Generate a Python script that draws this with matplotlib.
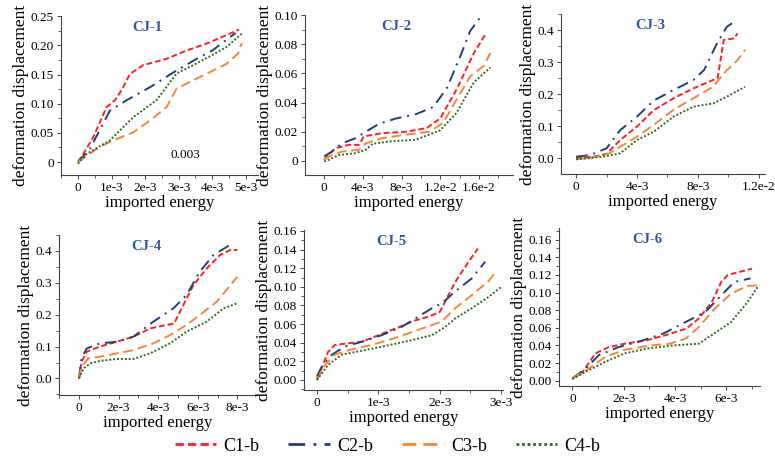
import matplotlib.pyplot as plt
from matplotlib.ticker import AutoMinorLocator
from matplotlib.lines import Line2D

plt.rcParams['font.family'] = ['Liberation Serif', 'DejaVu Serif']

# Dados (x = energia importada, y = deslocamento)
cj1_c1_x = [0, 0.16e-3, 0.46e-3, 0.85e-3, 1.1e-3, 1.3e-3, 1.55e-3, 1.94e-3, 2.64e-3, 3.23e-3, 3.83e-3, 4.72e-3, 4.8e-3]
cj1_c1_y = [0, 0.014, 0.043, 0.094, 0.106, 0.123, 0.151, 0.166, 0.177, 0.191, 0.203, 0.225, 0.227]
cj1_c2_x = [0, 0.36e-3, 0.95e-3, 1.45e-3, 2.14e-3, 2.94e-3, 3.63e-3, 4.0e-3, 4.62e-3, 4.7e-3]
cj1_c2_y = [0, 0.023, 0.088, 0.106, 0.128, 0.157, 0.180, 0.191, 0.218, 0.221]
cj1_c3_x = [0, 0.65e-3, 1.05e-3, 1.65e-3, 2.14e-3, 2.64e-3, 2.94e-3, 3.43e-3, 3.93e-3, 4.42e-3, 4.77e-3, 4.88e-3]
cj1_c3_y = [0, 0.026, 0.037, 0.051, 0.071, 0.094, 0.126, 0.140, 0.154, 0.168, 0.186, 0.204]
cj1_c4_x = [0, 0.26e-3, 0.95e-3, 1.65e-3, 2.34e-3, 2.94e-3, 3.43e-3, 3.83e-3, 4.42e-3, 4.88e-3]
cj1_c4_y = [-0.003, 0.014, 0.037, 0.077, 0.106, 0.152, 0.166, 0.178, 0.197, 0.220]

cj2_c1_x = [0, 0.45e-3, 1.15e-3, 2.55e-3, 3.6e-3, 4.1e-3, 6.0e-3, 8.5e-3, 10.6e-3, 12.0e-3, 13.7e-3, 15.5e-3, 16.7e-3]
cj2_c1_y = [0.0007, 0.004, 0.0087, 0.011, 0.011, 0.0168, 0.019, 0.020, 0.0225, 0.029, 0.049, 0.074, 0.087]
cj2_c2_x = [0, 0.8e-3, 1.85e-3, 3.25e-3, 4.3e-3, 5.7e-3, 7.4e-3, 9.5e-3, 11.3e-3, 12.7e-3, 14.1e-3, 15.1e-3, 16.1e-3]
cj2_c2_y = [0.003, 0.0064, 0.012, 0.0156, 0.020, 0.0255, 0.029, 0.032, 0.037, 0.050, 0.072, 0.089, 0.098]
cj2_c3_x = [0, 0.45e-3, 1.85e-3, 3.6e-3, 4.3e-3, 6.0e-3, 8.5e-3, 10.9e-3, 12.3e-3, 13.7e-3, 15.1e-3, 16.5e-3, 17.2e-3]
cj2_c3_y = [0.0007, 0.003, 0.0064, 0.0076, 0.012, 0.0156, 0.018, 0.020, 0.026, 0.042, 0.058, 0.065, 0.074]
cj2_c4_x = [0, 0.45e-3, 1.5e-3, 3.25e-3, 4.3e-3, 5.0e-3, 6.75e-3, 9.5e-3, 12.0e-3, 13.7e-3, 15.5e-3, 17.2e-3]
cj2_c4_y = [-0.0005, 0.0007, 0.004, 0.0053, 0.0076, 0.0117, 0.0133, 0.0145, 0.021, 0.033, 0.054, 0.064]

cj3_c1_x = [0, 1.14e-3, 2.0e-3, 2.9e-3, 4.0e-3, 5.1e-3, 6.4e-3, 7.7e-3, 9.0e-3, 9.3e-3, 9.7e-3, 10.4e-3, 10.6e-3]
cj3_c1_y = [0, 0.005, 0.0135, 0.057, 0.099, 0.150, 0.187, 0.218, 0.244, 0.250, 0.369, 0.374, 0.390]
cj3_c2_x = [0, 0.92e-3, 2.0e-3, 2.9e-3, 4.0e-3, 5.1e-3, 6.4e-3, 7.7e-3, 8.4e-3, 9.25e-3, 9.9e-3, 10.4e-3]
cj3_c2_y = [0.005, 0.010, 0.031, 0.088, 0.130, 0.180, 0.213, 0.244, 0.275, 0.358, 0.410, 0.426]
cj3_c3_x = [0, 1.14e-3, 2.2e-3, 2.9e-3, 4.0e-3, 5.1e-3, 6.4e-3, 7.7e-3, 9.0e-3, 9.7e-3, 10.6e-3, 11.1e-3]
cj3_c3_y = [-0.003, 0.003, 0.0156, 0.036, 0.0675, 0.104, 0.151, 0.187, 0.223, 0.265, 0.306, 0.338]
cj3_c4_x = [0, 1.8e-3, 2.9e-3, 4.0e-3, 5.1e-3, 6.4e-3, 7.7e-3, 9.0e-3, 9.9e-3, 11.1e-3]
cj3_c4_y = [-0.003, 0.005, 0.0156, 0.057, 0.083, 0.130, 0.161, 0.171, 0.192, 0.223]

cj4_c1_x = [0, 0.13e-3, 0.39e-3, 1.06e-3, 1.9e-3, 2.75e-3, 3.6e-3, 4.43e-3, 4.8e-3, 5.78e-3, 6.45e-3, 7.12e-3, 7.63e-3, 8.0e-3]
cj4_c1_y = [0, 0.052, 0.084, 0.100, 0.115, 0.131, 0.157, 0.168, 0.172, 0.293, 0.345, 0.387, 0.403, 0.403]
cj4_c2_x = [0, 0.13e-3, 0.39e-3, 1.06e-3, 1.9e-3, 2.75e-3, 3.75e-3, 4.77e-3, 5.44e-3, 6.1e-3, 6.79e-3, 7.63e-3, 7.75e-3]
cj4_c2_y = [0, 0.063, 0.094, 0.110, 0.115, 0.131, 0.178, 0.220, 0.262, 0.335, 0.387, 0.419, 0.424]
cj4_c3_x = [0, 0.13e-3, 0.47e-3, 1.06e-3, 2.75e-3, 3.75e-3, 4.6e-3, 5.44e-3, 6.1e-3, 6.96e-3, 8.0e-3]
cj4_c3_y = [0, 0.037, 0.063, 0.068, 0.089, 0.110, 0.136, 0.168, 0.199, 0.241, 0.319]
cj4_c4_x = [0, 0.22e-3, 0.56e-3, 1.06e-3, 1.9e-3, 2.75e-3, 3.6e-3, 4.6e-3, 5.44e-3, 6.45e-3, 7.3e-3, 8.0e-3]
cj4_c4_y = [0, 0.031, 0.047, 0.055, 0.061, 0.061, 0.079, 0.110, 0.147, 0.178, 0.220, 0.236]

cj5_c1_x = [0, 0.076e-3, 0.18e-3, 0.29e-3, 0.46e-3, 0.73e-3, 1.0e-3, 1.27e-3, 1.6e-3, 1.82e-3, 2.0e-3, 2.25e-3, 2.47e-3, 2.62e-3]
cj5_c1_y = [0.001, 0.0125, 0.030, 0.0376, 0.039, 0.041, 0.048, 0.055, 0.064, 0.068, 0.073, 0.105, 0.127, 0.141]
cj5_c2_x = [0, 0.076e-3, 0.24e-3, 0.46e-3, 0.73e-3, 1.05e-3, 1.38e-3, 1.7e-3, 1.92e-3, 2.03e-3, 2.25e-3, 2.52e-3, 2.74e-3]
cj5_c2_y = [0.0036, 0.014, 0.027, 0.036, 0.041, 0.048, 0.057, 0.070, 0.079, 0.082, 0.095, 0.109, 0.127]
cj5_c3_x = [0, 0.13e-3, 0.29e-3, 0.51e-3, 0.89e-3, 1.27e-3, 1.7e-3, 2.03e-3, 2.25e-3, 2.52e-3, 2.79e-3, 2.91e-3]
cj5_c3_y = [0, 0.016, 0.027, 0.032, 0.0376, 0.045, 0.055, 0.0626, 0.077, 0.091, 0.106, 0.116]
cj5_c4_x = [0, 0.18e-3, 0.4e-3, 0.62e-3, 1.0e-3, 1.43e-3, 1.87e-3, 2.09e-3, 2.25e-3, 2.52e-3, 2.79e-3, 3.0e-3]
cj5_c4_y = [0, 0.016, 0.027, 0.030, 0.035, 0.041, 0.048, 0.057, 0.066, 0.077, 0.089, 0.100]

cj6_c1_x = [0, 0.4e-3, 0.9e-3, 1.41e-3, 2.04e-3, 2.92e-3, 3.67e-3, 4.43e-3, 4.93e-3, 5.43e-3, 5.8e-3, 6.06e-3, 7.0e-3]
cj6_c1_y = [0.0026, 0.010, 0.031, 0.038, 0.042, 0.046, 0.052, 0.059, 0.0706, 0.089, 0.112, 0.120, 0.127]
cj6_c2_x = [0, 0.53e-3, 1.03e-3, 1.79e-3, 2.67e-3, 3.55e-3, 4.43e-3, 5.18e-3, 5.81e-3, 6.31e-3, 6.94e-3]
cj6_c2_y = [0.0026, 0.014, 0.029, 0.038, 0.045, 0.0536, 0.0668, 0.078, 0.097, 0.112, 0.116]
cj6_c3_x = [0, 0.65e-3, 1.28e-3, 2.04e-3, 3.04e-3, 3.8e-3, 4.43e-3, 4.93e-3, 5.56e-3, 6.19e-3, 6.82e-3, 7.2e-3]
cj6_c3_y = [0.0026, 0.014, 0.027, 0.035, 0.040, 0.042, 0.048, 0.061, 0.082, 0.099, 0.1075, 0.108]
cj6_c4_x = [0, 0.65e-3, 1.28e-3, 2.04e-3, 2.92e-3, 3.92e-3, 4.93e-3, 5.43e-3, 6.19e-3, 6.82e-3, 7.26e-3]
cj6_c4_y = [0.0019, 0.012, 0.0215, 0.031, 0.0366, 0.040, 0.042, 0.0517, 0.0668, 0.089, 0.108]

# Ticks de cada painel
cj1_xticks = [0, 1e-3, 2e-3, 3e-3, 4e-3, 5e-3]
cj1_xlabels = ['0', '1e-3', '2e-3', '3e-3', '4e-3', '5e-3']
cj1_yticks = [0, 0.05, 0.10, 0.15, 0.20, 0.25]
cj1_ylabels = ['0', '0.05', '0.10', '0.15', '0.20', '0.25']

cj2_xticks = [0, 4e-3, 8e-3, 12e-3, 16e-3]
cj2_xlabels = ['0', '4e-3', '8e-3', '1.2e-2', '1.6e-2']
cj2_yticks = [0, 0.02, 0.04, 0.06, 0.08, 0.10]
cj2_ylabels = ['0', '0.02', '0.04', '0.06', '0.08', '0.10']

cj3_xticks = [0, 4e-3, 8e-3, 12e-3]
cj3_xlabels = ['0', '4e-3', '8e-3', '1.2e-2']
cj3_yticks = [0, 0.1, 0.2, 0.3, 0.4]
cj3_ylabels = ['0.0', '0.1', '0.2', '0.3', '0.4']

cj4_xticks = [0, 2e-3, 4e-3, 6e-3, 8e-3]
cj4_xlabels = ['0', '2e-3', '4e-3', '6e-3', '8e-3']
cj4_yticks = [0, 0.1, 0.2, 0.3, 0.4]
cj4_ylabels = ['0.0', '0.1', '0.2', '0.3', '0.4']

cj5_xticks = [0, 1e-3, 2e-3, 3e-3]
cj5_xlabels = ['0', '1e-3', '2e-3', '3e-3']
cj5_yticks = [0, 0.02, 0.04, 0.06, 0.08, 0.10, 0.12, 0.14, 0.16]
cj5_ylabels = ['0.00', '0.02', '0.04', '0.06', '0.08', '0.10', '0.12', '0.14', '0.16']

cj6_xticks = [0, 2e-3, 4e-3, 6e-3]
cj6_xlabels = ['0', '2e-3', '4e-3', '6e-3']
cj6_yticks = [0, 0.02, 0.04, 0.06, 0.08, 0.10, 0.12, 0.14, 0.16]
cj6_ylabels = ['0.00', '0.02', '0.04', '0.06', '0.08', '0.10', '0.12', '0.14', '0.16']

series_names = ['C1-b', 'C2-b', 'C3-b', 'C4-b']

# Estilos das séries
colors = ['#FF1F1F', '#233F7A', '#F5873A', '#2F6A22']
styles = [(0, (3, 1.5)), (0, (6, 3, 1, 3)), (0, (5, 2.5)), (0, (1, 1))]

panels = [
    ('CJ-1', [(cj1_c1_x, cj1_c1_y), (cj1_c2_x, cj1_c2_y), (cj1_c3_x, cj1_c3_y), (cj1_c4_x, cj1_c4_y)],
     cj1_xticks, cj1_xlabels, cj1_yticks, cj1_ylabels,
     [0.0787, 0.6187, 0.254, 0.346], (-0.506e-3, 5.36e-3), (-0.0223, 0.25)),
    ('CJ-2', [(cj2_c1_x, cj2_c1_y), (cj2_c2_x, cj2_c2_y), (cj2_c3_x, cj2_c3_y), (cj2_c4_x, cj2_c4_y)],
     cj2_xticks, cj2_xlabels, cj2_yticks, cj2_ylabels,
     [0.3935, 0.6187, 0.268, 0.3486], (-1.99e-3, 19.5e-3), (-0.0097, 0.10)),
    ('CJ-3', [(cj3_c1_x, cj3_c1_y), (cj3_c2_x, cj3_c2_y), (cj3_c3_x, cj3_c3_y), (cj3_c4_x, cj3_c4_y)],
     cj3_xticks, cj3_xlabels, cj3_yticks, cj3_ylabels,
     [0.7239, 0.6209, 0.263, 0.3486], (-0.99e-3, 12.4e-3), (-0.049, 0.45)),
    ('CJ-4', [(cj4_c1_x, cj4_c1_y), (cj4_c2_x, cj4_c2_y), (cj4_c3_x, cj4_c3_y), (cj4_c4_x, cj4_c4_y)],
     cj4_xticks, cj4_xlabels, cj4_yticks, cj4_ylabels,
     [0.0761, 0.1394, 0.2555, 0.3486], (-1.01e-3, 8.99e-3), (-0.052, 0.45)),
    ('CJ-5', [(cj5_c1_x, cj5_c1_y), (cj5_c2_x, cj5_c2_y), (cj5_c3_x, cj5_c3_y), (cj5_c4_x, cj5_c4_y)],
     cj5_xticks, cj5_xlabels, cj5_yticks, cj5_ylabels,
     [0.3923, 0.1503, 0.2568, 0.3486], (-0.21e-3, 3.03e-3), (-0.0108, 0.161)),
    ('CJ-6', [(cj6_c1_x, cj6_c1_y), (cj6_c2_x, cj6_c2_y), (cj6_c3_x, cj6_c3_y), (cj6_c4_x, cj6_c4_y)],
     cj6_xticks, cj6_xlabels, cj6_yticks, cj6_ylabels,
     [0.7213, 0.159, 0.259, 0.344], (-0.52e-3, 7.3e-3), (-0.006, 0.173)),
]

fig = plt.figure(figsize=(7.75, 4.59), dpi=100)

for title, series, xt, xl, yt, yl, rect, xlim, ylim in panels:
    ax = fig.add_axes(rect)
    for (x, y), c, ls in zip(series, colors, styles):
        ax.plot(x, y, color=c, linestyle=ls, linewidth=1.4)
    ax.set_xlim(*xlim)
    ax.set_ylim(*ylim)
    ax.set_xticks(xt)
    ax.set_xticklabels(xl)
    ax.set_yticks(yt)
    ax.set_yticklabels(yl)
    ax.xaxis.set_minor_locator(AutoMinorLocator(2))
    ax.yaxis.set_minor_locator(AutoMinorLocator(2))
    ax.tick_params(labelsize=9.5, length=3, width=0.7, color='#444444', pad=2)
    ax.tick_params(which='minor', length=2, width=0.6, color='#444444')
    for s in ['top', 'right']:
        ax.spines[s].set_visible(False)
    for s in ['left', 'bottom']:
        ax.spines[s].set_color('#444444')
        ax.spines[s].set_linewidth(0.8)
    ax.set_xlabel('imported energy', fontsize=12, labelpad=1)
    ax.set_ylabel('deformation displacement', fontsize=12.5, labelpad=1)
    ax.text(0.44, 0.97, title, transform=ax.transAxes, ha='center', va='top',
            fontsize=10.5, fontweight='bold', color='#2F56A0')
    if title == 'CJ-1':
        ax.text(3.2e-3, 0.012, '0.003', fontsize=9.5, ha='center', va='center')

# Legenda comum
handles = [Line2D([0], [0], color=c, linestyle=ls, linewidth=2) for c, ls in zip(colors, styles)]
fig.legend(handles, series_names, loc='center', bbox_to_anchor=(0.5, 0.028), ncol=4,
           frameon=False, fontsize=13, handlelength=2.3, handletextpad=0.4, columnspacing=1.6)

plt.savefig('out.png', dpi=100)
